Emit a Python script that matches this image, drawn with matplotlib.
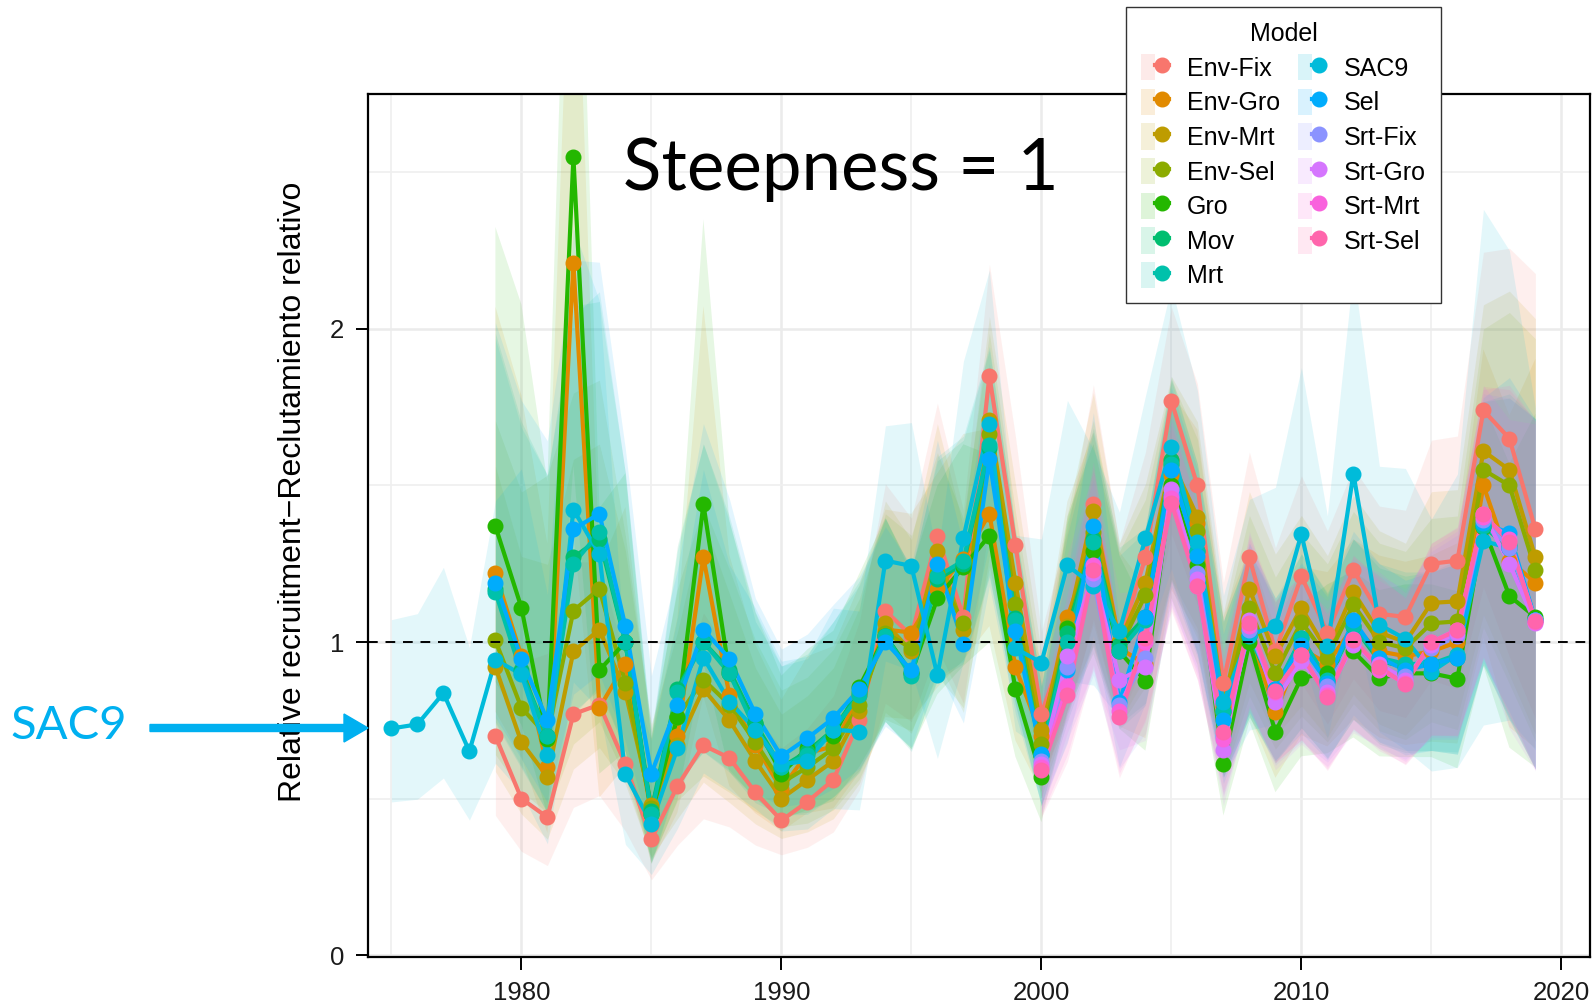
import numpy as np
import matplotlib
matplotlib.use("Agg")
import matplotlib.pyplot as plt
from matplotlib.patches import Patch, FancyArrow
from matplotlib.lines import Line2D
from matplotlib.legend_handler import HandlerTuple

# ---------------- data ----------------
years_main = list(range(1979, 2020))
years_sac9 = list(range(1975, 2020))
years_srt = list(range(2000, 2020))

models = ["Env-Fix", "Env-Gro", "Env-Mrt", "Env-Sel", "Gro", "Mov", "Mrt",
          "SAC9", "Sel", "Srt-Fix", "Srt-Gro", "Srt-Mrt", "Srt-Sel"]
colors = ["#F8766D", "#E18A00", "#BE9C00", "#8CAB00", "#24B700", "#00BE70",
          "#00C1AB", "#00BBDA", "#00ACFC", "#8B93FF", "#D575FE", "#F962DD",
          "#FF65AC"]

env_fix = [0.70, 0.50, 0.44, 0.77, 0.80, 0.61, 0.37, 0.54, 0.67, 0.63, 0.52,
           0.43, 0.49, 0.56, 0.75, 1.10, 1.02, 1.34, 1.08, 1.85, 1.31, 0.77,
           1.01, 1.44, 1.00, 1.27, 1.77, 1.50, 0.87, 1.27, 0.97, 1.21, 1.03,
           1.23, 1.09, 1.08, 1.25, 1.26, 1.74, 1.65, 1.36]
env_gro = [1.22, 0.955, 0.60, 2.21, 0.79, 0.93, 0.45, 0.70, 1.27, 0.83, 0.67,
           0.53, 0.645, 0.667, 0.83, 1.04, 1.03, 1.17, 1.265, 1.41, 0.92, 0.70,
           1.08, 1.32, 0.98, 0.93, 1.535, 1.38, 0.79, 1.03, 0.775, 0.98, 0.93,
           1.05, 0.97, 0.955, 0.97, 1.00, 1.50, 1.26, 1.19]
env_mrt = [0.92, 0.68, 0.57, 0.97, 1.04, 0.84, 0.48, 0.67, 0.85, 0.75, 0.62,
           0.50, 0.56, 0.62, 0.78, 1.06, 0.97, 1.29, 1.04, 1.71, 1.19, 0.72,
           1.05, 1.42, 1.00, 1.19, 1.58, 1.40, 0.80, 1.17, 0.955, 1.11, 0.97,
           1.16, 1.03, 1.00, 1.125, 1.13, 1.61, 1.55, 1.27]
env_sel = [1.005, 0.79, 0.70, 1.10, 1.17, 0.87, 0.47, 0.76, 0.88, 0.80, 0.68,
           0.55, 0.60, 0.66, 0.80, 1.03, 0.98, 1.22, 1.06, 1.665, 1.12, 0.675,
           1.04, 1.35, 0.98, 1.15, 1.57, 1.355, 0.775, 1.11, 0.90, 1.065, 0.95,
           1.12, 1.00, 0.98, 1.06, 1.066, 1.55, 1.50, 1.23]
gro = [1.37, 1.11, 0.69, 2.55, 0.91, 1.00, 0.45, 0.76, 1.44, 0.90, 0.74,
       0.58, 0.66, 0.70, 0.857, 1.02, 0.90, 1.14, 1.24, 1.34, 0.85, 0.57,
       1.044, 1.29, 0.97, 0.876, 1.50, 1.245, 0.61, 1.00, 0.712, 0.886, 0.90,
       0.97, 0.886, 0.90, 0.90, 0.883, 1.367, 1.147, 1.08]
mov = [1.17, 0.91, 0.70, 1.27, 1.33, 1.00, 0.46, 0.85, 1.00, 0.91, 0.74,
       0.60, 0.65, 0.72, 0.84, 1.02, 0.90, 1.20, 1.25, 1.62, 1.076, 0.64,
       1.03, 1.33, 0.99, 1.08, 1.58, 1.29, 0.78, 1.02, 0.84, 1.013, 0.876,
       1.05, 0.94, 0.92, 0.93, 0.95, 1.37, 1.30, 1.07]
mrt = [1.16, 0.90, 0.70, 1.25, 1.35, 1.00, 0.45, 0.84, 1.00, 0.90, 0.72,
       0.60, 0.64, 0.72, 0.83, 1.02, 0.89, 1.21, 1.26, 1.63, 1.07, 0.64,
       1.00, 1.32, 0.97, 1.07, 1.57, 1.29, 0.78, 1.02, 0.85, 1.013, 0.88,
       1.05, 0.95, 0.93, 0.93, 0.96, 1.37, 1.31, 1.07]
sac9 = [0.724, 0.737, 0.837, 0.651, 0.943, 0.897, 0.64, 1.423, 1.28, 0.577,
        0.42, 0.66, 0.95, 0.81, 0.72, 0.61, 0.62, 0.72, 0.714, 1.26, 1.243,
        0.894, 1.333, 1.696, 0.98, 0.934, 1.245, 1.18, 1.034, 1.331, 1.624,
        1.318, 0.807, 1.023, 1.05, 1.345, 0.986, 1.538, 1.055, 1.01, 0.905,
        0.96, 1.323, 1.30, 1.07]
sel = [1.19, 0.946, 0.75, 1.36, 1.41, 1.05, 0.58, 0.80, 1.04, 0.947, 0.77,
       0.635, 0.693, 0.757, 0.85, 1.00, 0.91, 1.25, 0.995, 1.584, 1.034, 0.643,
       0.91, 1.37, 0.807, 1.08, 1.55, 1.276, 0.75, 1.04, 0.85, 0.99, 0.87,
       1.07, 0.95, 0.91, 0.93, 0.95, 1.38, 1.348, 1.07]
srt_fix = [0.62, 0.92, 1.20, 0.80, 0.95, 1.47, 1.22, 0.70, 1.04, 0.83, 0.95,
           0.86, 1.00, 0.92, 0.89, 0.98, 1.02, 1.39, 1.30, 1.07]
srt_gro = [0.61, 0.955, 1.22, 0.88, 0.92, 1.49, 1.20, 0.654, 1.07, 0.81, 0.94,
           0.84, 0.99, 0.93, 0.88, 0.99, 1.03, 1.41, 1.25, 1.06]
srt_mrt = [0.60, 0.86, 1.245, 0.78, 1.00, 1.46, 1.18, 0.69, 1.05, 0.84, 0.96,
           0.83, 1.01, 0.91, 0.87, 1.00, 1.04, 1.40, 1.33, 1.065]
srt_sel = [0.59, 0.83, 1.23, 0.76, 1.013, 1.445, 1.18, 0.712, 1.06, 0.844,
           0.96, 0.823, 1.007, 0.92, 0.865, 1.00, 1.037, 1.408, 1.32, 1.066]

# log-scale half-widths of the ribbons (upper / lower)
cv_up = [0.27, 0.32, 0.40, 0.25, 0.23, 0.22, 0.22, 0.22, 0.25, 0.22, 0.20,
         0.22, 0.20, 0.20, 0.18, 0.16, 0.16, 0.14, 0.14, 0.09, 0.12, 0.15,
         0.15, 0.12, 0.14, 0.12, 0.08, 0.10, 0.16, 0.12, 0.15, 0.12, 0.14,
         0.12, 0.14, 0.14, 0.14, 0.14, 0.13, 0.16, 0.24]
cv_lo = [0.23, 0.21, 0.22, 0.25, 0.23, 0.22, 0.22, 0.22, 0.22, 0.22, 0.20,
         0.15, 0.18, 0.18, 0.18, 0.16, 0.16, 0.16, 0.15, 0.15, 0.15, 0.15,
         0.15, 0.15, 0.15, 0.15, 0.14, 0.15, 0.16, 0.15, 0.16, 0.17, 0.17,
         0.17, 0.17, 0.18, 0.18, 0.20, 0.20, 0.28, 0.30]
cv_sac9 = [0.20, 0.20, 0.20, 0.21, 0.22, 0.28, 0.30, 0.25, 0.25, 0.25, 0.25,
           0.25, 0.25, 0.22, 0.22, 0.22, 0.22, 0.22, 0.22, 0.15, 0.16, 0.18,
           0.18, 0.13, 0.16, 0.18, 0.18, 0.16, 0.16, 0.15, 0.14, 0.16, 0.18,
           0.18, 0.18, 0.17, 0.18, 0.18, 0.20, 0.22, 0.22, 0.24, 0.30, 0.28,
           0.25]

series = {
    "Env-Fix": (years_main, env_fix, cv_lo, cv_up),
    "Env-Gro": (years_main, env_gro, cv_lo, cv_up),
    "Env-Mrt": (years_main, env_mrt, cv_lo, cv_up),
    "Env-Sel": (years_main, env_sel, cv_lo, cv_up),
    "Gro": (years_main, gro, cv_lo, cv_up),
    "Mov": (years_main, mov, cv_lo, cv_up),
    "Mrt": (years_main, mrt, cv_lo, cv_up),
    "SAC9": (years_sac9, sac9, cv_sac9, cv_sac9),
    "Sel": (years_main, sel, cv_lo, cv_up),
    "Srt-Fix": (years_srt, srt_fix, cv_lo[21:], cv_up[21:]),
    "Srt-Gro": (years_srt, srt_gro, cv_lo[21:], cv_up[21:]),
    "Srt-Mrt": (years_srt, srt_mrt, cv_lo[21:], cv_up[21:]),
    "Srt-Sel": (years_srt, srt_sel, cv_lo[21:], cv_up[21:]),
}

# ---------------- figure ----------------
W, H = 1593, 1006
fig = plt.figure(figsize=(W / 100, H / 100), dpi=100)
ax = fig.add_axes([368 / W, 1 - 957 / H, (1590 - 368) / W, (957 - 93.5) / H])

LW, MS = 3.0, 10.5

for m, c in zip(models, colors):
    yrs, v, clo, cup = series[m]
    v = np.array(v)
    lo = v * np.exp(-1.96 * np.array(clo))
    hi = v * np.exp(1.96 * np.array(cup))
    ax.fill_between(yrs, lo, hi, color=c, alpha=0.11, lw=0, zorder=2)

for m, c in zip(models, colors):
    yrs, v, _, _ = series[m]
    ax.plot(yrs, v, color=c, lw=LW, zorder=3, solid_capstyle="round")
for m, c in zip(models, colors):
    yrs, v, _, _ = series[m]
    ax.plot(yrs, v, ls="none", marker="o", ms=MS, color=c, mec=c, zorder=4)

ax.axhline(1.0, color="black", lw=1.4, ls=(0, (5, 4)), zorder=5)

ax.set_xlim(1974.1, 2021.1)
ax.set_ylim(-0.006, 2.752)
ax.set_xticks([1980, 1990, 2000, 2010, 2020])
ax.set_xticks([1975, 1985, 1995, 2005, 2015], minor=True)
ax.set_yticks([0, 1, 2])
ax.set_yticks([0.5, 1.5, 2.5], minor=True)
ax.grid(True, which="major", color="#EBEBEB", lw=1.8, zorder=0)
ax.grid(True, which="minor", color="#EFEFEF", lw=1.2, zorder=0)
ax.set_axisbelow(True)
ax.tick_params(which="minor", length=0)
ax.tick_params(which="major", length=9, width=1.4, color="black",
               labelsize=18.5, labelcolor="#1a1a1a", pad=8)
for lab in ax.get_xticklabels() + ax.get_yticklabels():
    lab.set_fontfamily("Liberation Sans")
for s in ax.spines.values():
    s.set_color("black")
    s.set_linewidth(1.6)

fig.text(293 / W, 1 - 492 / H, "Relative recruitment\u2212Reclutamiento relativo",
         rotation=90, ha="center", va="center", fontsize=23,
         family="Liberation Sans", color="black")

# legend
handles = []
for c in colors:
    handles.append((Patch(facecolor=c, alpha=0.15, edgecolor="none"),
                    Line2D([], [], color=c, lw=LW, marker="o", ms=MS)))
leg = fig.legend(handles, models, ncol=2, loc="upper left",
                 bbox_to_anchor=(1126 / W, 1 - 7 / H),
                 title="Model", title_fontsize=18,
                 handler_map={tuple: HandlerTuple(ndivide=None, pad=0)},
                 frameon=True, fancybox=False, edgecolor="#333333",
                 framealpha=1, borderaxespad=0, handlelength=1.1,
                 handleheight=1.25, handletextpad=0.75, labelspacing=0.32,
                 columnspacing=0.7, borderpad=0.6,
                 prop={"family": "Liberation Sans", "size": 18})
leg.get_title().set_fontfamily("Liberation Sans")
leg.get_frame().set_linewidth(1.0)

fig.text(841 / W, 1 - 170 / H, "Steepness = 1", ha="center", va="center",
         fontsize=51, family="Lato", color="black")

fig.text(69 / W, 1 - 726 / H, "SAC9", ha="center", va="center",
         fontsize=34, family="Lato", color="#00B0F0")
arrow = FancyArrow(150 / W, 1 - 728 / H, (368 - 150) / W, 0,
                   width=7 / H, head_width=28 / H, head_length=24 / W,
                   length_includes_head=True, color="#00B0F0",
                   transform=fig.transFigure, zorder=10)
fig.add_artist(arrow)

fig.savefig("out.png", dpi=100)
